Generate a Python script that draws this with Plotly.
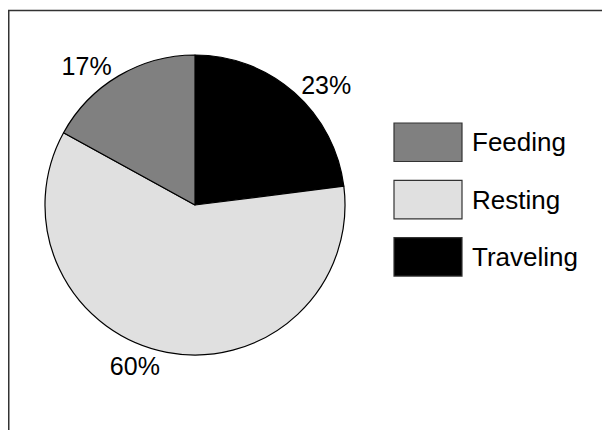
import plotly.graph_objects as go

labels = ["Feeding", "Resting", "Traveling"]
values = [17, 60, 23]
colors = ["#808080", "#e0e0e0", "#000000"]

W, H = 610, 430
OX, OY = 8, 8  # page offset of the figure inside the browser window
FONT = "Liberation Sans, Arial, sans-serif"


def px(x):
    return (x - OX) / W


def py(y):
    return 1 - (y - OY) / H


# pie geometry in window pixels
CX, CY, R = 195, 205, 150

fig = go.Figure()
fig.add_trace(go.Pie(
    labels=labels[::-1], values=values[::-1], sort=False,
    direction="clockwise", rotation=0,
    marker=dict(colors=colors[::-1], line=dict(color="black", width=1.2)),
    textinfo="percent", textposition="outside",
    texttemplate="%{percent:.0%}",
    outsidetextfont=dict(size=25, color="black", family=FONT),
    showlegend=False, hoverinfo="skip",
    domain=dict(x=[px(CX - R), px(CX + R)], y=[py(CY + R), py(CY - R)]),
))

frame = dict(color="#333333", width=1.5)
shapes = [
    dict(type="line", xref="paper", yref="paper", x0=px(8.75), x1=px(8.75),
         y0=0, y1=py(10.5), line=frame),
    dict(type="line", xref="paper", yref="paper", x0=px(8), x1=1,
         y0=py(10.5), y1=py(10.5), line=frame),
]
annotations = []
top0, step, sw_h = 123, 57.3, 38.5
for i, (lab, col) in enumerate(zip(labels, colors)):
    y0 = top0 + i * step
    shapes.append(dict(type="rect", xref="paper", yref="paper",
                       x0=px(394), x1=px(462),
                       y0=py(y0 + sw_h), y1=py(y0),
                       line=dict(color="#333333", width=1.2), fillcolor=col))
    annotations.append(dict(xref="paper", yref="paper", x=px(470),
                            y=py(y0 + sw_h / 2), text=lab, showarrow=False,
                            xanchor="left", yanchor="middle",
                            font=dict(size=26, color="black", family=FONT)))

fig.update_layout(
    width=W, height=H, margin=dict(l=0, r=0, t=0, b=0),
    paper_bgcolor="white", plot_bgcolor="white",
    shapes=shapes, annotations=annotations,
)
fig.write_html("out.html")
